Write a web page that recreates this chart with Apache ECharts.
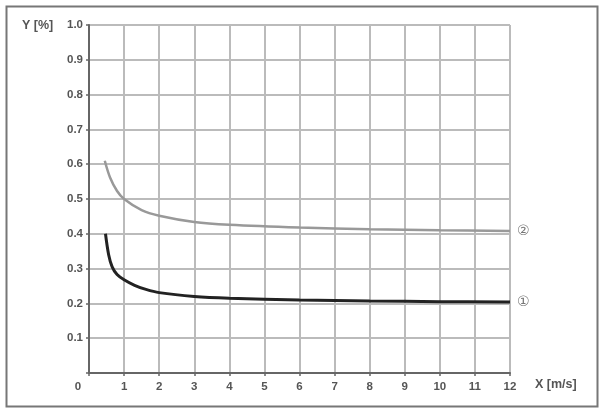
<!DOCTYPE html>
<html><head><meta charset="utf-8">
<script src="https://cdn.jsdelivr.net/npm/echarts@6/dist/echarts.min.js"></script>
<style>html,body{margin:0;padding:0;background:#fff}#c{width:600px;height:409px}</style>
</head><body><div id="c"></div>
<script>
var xTicks = [0,1,2,3,4,5,6,7,8,9,10,11,12];
var yTicks = [0,0.1,0.2,0.3,0.4,0.5,0.6,0.7,0.8,0.9,1.0];
var curve2X = [0.45,0.6,0.8,1,1.5,2,3,4,6,8,10,12];
var curve2Y = [0.61,0.562,0.523,0.5,0.468,0.452,0.434,0.426,0.418,0.413,0.41,0.408];
var curve1X = [0.47,0.56,0.66,0.8,1,1.3,1.6,2,3,4,6,8,10,12];
var curve1Y = [0.4,0.34,0.305,0.283,0.268,0.252,0.241,0.231,0.22,0.215,0.21,0.207,0.205,0.204];
var curveNames = ['②','①'];

function pairs(xs, ys){ return xs.map(function(x,i){return [x, ys[i]];}); }
var font = 'Liberation Sans, Arial, sans-serif';
var chart = echarts.init(document.getElementById('c'), null, {renderer:'canvas'});
chart.setOption({
  animation:false,
  backgroundColor:'#fff',
  grid:{left:89,right:90,top:25,bottom:36,containLabel:false},
  graphic:[
    {type:'rect',left:4,top:4,shape:{width:591,height:400},style:{fill:'none',stroke:'#777',lineWidth:2},silent:true},
    {type:'text',left:22,top:19,style:{text:'Y [%]',fill:'#555',font:'bold 12.5px '+font}},
    {type:'text',left:535,top:378,style:{text:'X [m/s]',fill:'#555',font:'bold 12.5px '+font}}
  ],
  xAxis:{type:'value',min:0,max:12,interval:1,
    axisLine:{lineStyle:{color:'#666',width:2}},
    axisTick:{show:true,length:3,lineStyle:{color:'#666',width:1.5}},
    axisLabel:{color:'#555',fontSize:11.5,fontWeight:'bold',fontFamily:font,margin:8,
      formatter:function(v){return v===0?'{z|0}':String(v);},
      rich:{z:{padding:[0,22,0,0],color:'#555',fontSize:11.5,fontWeight:'bold',fontFamily:font}}},
    splitLine:{show:true,lineStyle:{color:'#bbb',width:2}}
  },
  yAxis:{type:'value',min:0,max:1,interval:0.1,
    axisLine:{show:true,lineStyle:{color:'#666',width:2}},
    axisTick:{show:true,length:3,lineStyle:{color:'#666',width:1.5}},
    axisLabel:{color:'#555',fontSize:11.5,fontWeight:'bold',fontFamily:font,margin:6,
      formatter:function(v){return v===0?'':v.toFixed(1);}},
    splitLine:{show:true,lineStyle:{color:'#bbb',width:2}}
  },
  series:[
    {name:curveNames[0],type:'line',data:pairs(curve2X,curve2Y),smooth:0.35,showSymbol:false,
      lineStyle:{color:'#999',width:2.5},
      endLabel:{show:true,formatter:curveNames[0],color:'#777',fontSize:14,fontFamily:'DejaVu Sans',distance:7}},
    {name:curveNames[1],type:'line',data:pairs(curve1X,curve1Y),smooth:0.35,showSymbol:false,
      lineStyle:{color:'#222',width:3},
      endLabel:{show:true,formatter:curveNames[1],color:'#777',fontSize:14,fontFamily:'DejaVu Sans',distance:7}}
  ]
});
</script></body></html>
